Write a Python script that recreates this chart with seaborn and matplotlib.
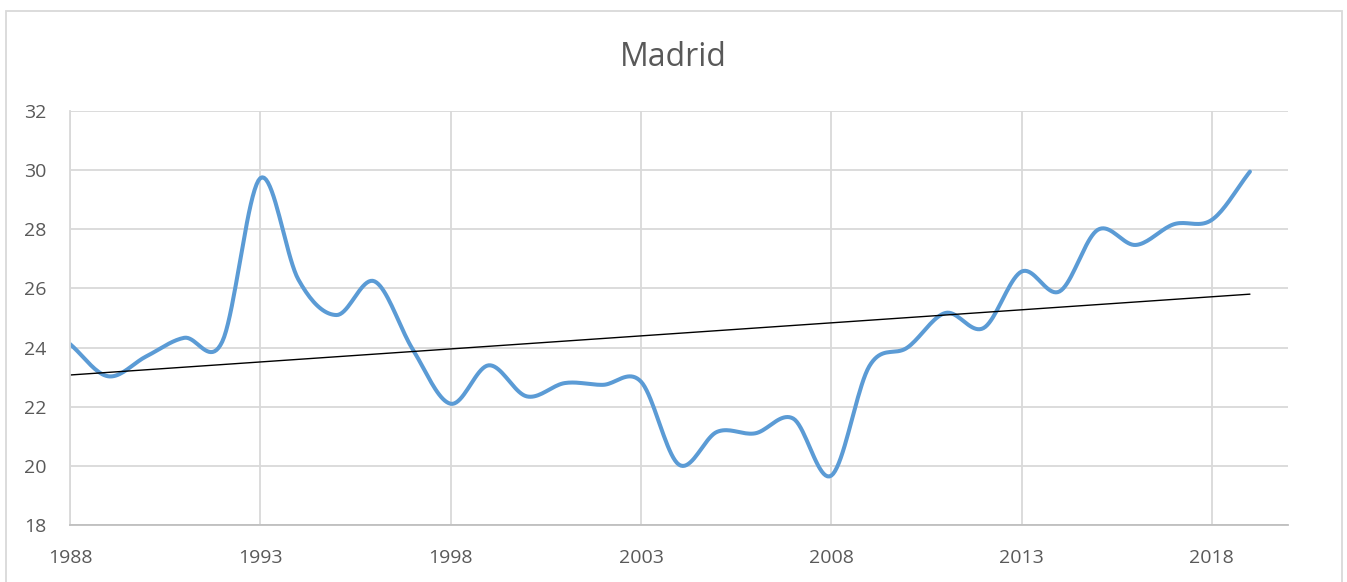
import numpy as np
import pandas as pd
import matplotlib
matplotlib.use('Agg')
import matplotlib.pyplot as plt
import seaborn as sns
from matplotlib.patches import Rectangle

# yearly values
years = list(range(1988, 2020))
values = [24.12, 23.03, 23.70, 24.33, 24.20, 29.73, 26.30, 25.10, 26.24, 23.95,
          22.10, 23.40, 22.35, 22.80, 22.74, 22.85, 20.04, 21.15, 21.10, 21.60,
          19.67, 23.37, 24.00, 25.17, 24.66, 26.57, 25.90, 27.98, 27.47, 28.17,
          28.32, 29.95]
title = 'Madrid'
xticks = [1988, 1993, 1998, 2003, 2008, 2013, 2018]
yticks = [18, 20, 22, 24, 26, 28, 30, 32]

text_col = '#595959'
grid_col = '#d9d9d9'
line_col = '#5b9bd5'


# excel-like smoothing: catmull-rom through the points
def smooth(x, y, n=20):
    x = np.asarray(x, float)
    y = np.asarray(y, float)
    px = np.concatenate([[2 * x[0] - x[1]], x, [2 * x[-1] - x[-2]]])
    py = np.concatenate([[2 * y[0] - y[1]], y, [2 * y[-1] - y[-2]]])
    xs, ys = [], []
    t = np.linspace(0, 1, n, endpoint=False)
    for i in range(1, len(px) - 2):
        for p, out in ((px, xs), (py, ys)):
            p0, p1, p2, p3 = p[i - 1], p[i], p[i + 1], p[i + 2]
            out.extend(0.5 * (2 * p1 + (-p0 + p2) * t
                              + (2 * p0 - 5 * p1 + 4 * p2 - p3) * t ** 2
                              + (-p0 + 3 * p1 - 3 * p2 + p3) * t ** 3))
    xs.append(x[-1])
    ys.append(y[-1])
    return np.array(xs), np.array(ys)


sx, sy = smooth(years, values)
curve = pd.DataFrame({'year': sx, 'value': sy})
coef = np.polyfit(years, values, 1)
trend = pd.DataFrame({'year': [years[0], years[-1]],
                      'value': np.polyval(coef, [years[0], years[-1]])})

sns.set_theme(style='white')
plt.rcParams['font.family'] = ['Open Sans', 'DejaVu Sans']

fig = plt.figure(figsize=(13.47, 5.82), dpi=100)
ax = fig.add_axes([70 / 1347, 57 / 582, 1218 / 1347, 414 / 582])

sns.lineplot(data=curve, x='year', y='value', ax=ax, color=line_col,
             linewidth=2.9, sort=False, estimator=None)
sns.lineplot(data=trend, x='year', y='value', ax=ax, color='black',
             linewidth=1.0, sort=False, estimator=None)

ax.set_xlim(1988, 2020)
ax.set_ylim(18, 32)
ax.set_xticks(xticks)
ax.set_yticks(yticks)
ax.set_xlabel('')
ax.set_ylabel('')
ax.grid(True, color=grid_col, linewidth=1.3)
ax.set_axisbelow(True)
for s in ['top', 'right']:
    ax.spines[s].set_visible(False)
ax.spines['left'].set_color(grid_col)
ax.spines['left'].set_linewidth(1.3)
ax.spines['bottom'].set_color('#bfbfbf')
ax.spines['bottom'].set_linewidth(1.3)
ax.tick_params(axis='both', length=0, labelsize=14, colors=text_col)
ax.tick_params(axis='y', pad=17)
ax.tick_params(axis='x', pad=17)

fig.text(673 / 1347, 1 - 57 / 582, title, ha='center', va='center',
         fontsize=23, color=text_col)

# chart border
fig.patches.append(Rectangle((6 / 1347, -0.01), 1336 / 1347, 1 - 11 / 582 + 0.01,
                             transform=fig.transFigure, fill=False,
                             edgecolor=grid_col, linewidth=1.3))

fig.savefig('out.png', dpi=100)
